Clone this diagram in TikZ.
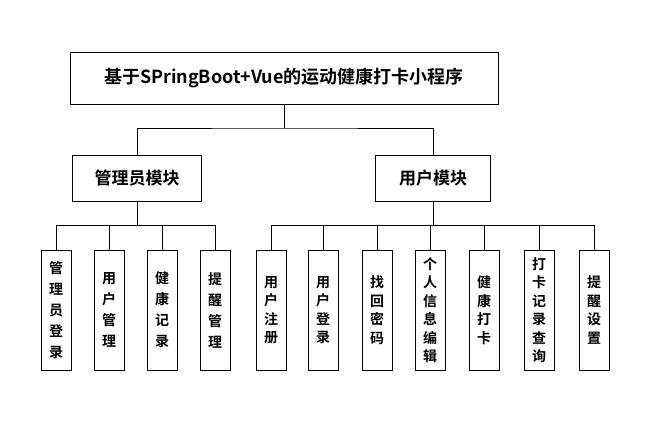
\documentclass[tikz,border=0pt]{standalone}
\usepackage{fontspec}
\setmainfont{Noto Sans CJK SC Bold}
\usetikzlibrary{positioning}
\tikzset{
  box/.style={draw,thick,fill=white,align=center,inner sep=0pt},
  leaf/.style={box,minimum width=30pt,minimum height=120pt,font=\fontsize{14}{21}\selectfont},
  link/.style={thick}
}
\begin{document}
\begin{tikzpicture}[x=1pt,y=-1pt]
\useasboundingbox (0,0) rectangle (650,420);

% Titolo e moduli
\node[box,minimum width=428pt,minimum height=52pt,font=\fontsize{18}{18}\selectfont] (root) at (284,78) {基于SPringBoot+Vue的运动健康打卡小程序};
\node[box,minimum width=129pt,minimum height=46pt,font=\fontsize{17}{17}\selectfont] (admin) at (137,178) {管理员模块};
\node[box,minimum width=115pt,minimum height=46pt,font=\fontsize{17}{17}\selectfont] (user) at (433,178) {用户模块};

\coordinate (rj) at (284,128);
\draw[link] (root.south) -- (rj);
\draw[link] (admin.north) |- (rj) -| (user.north);

% Foglie
\foreach \x/\t/\n in {56/管\\理\\员\\登\\录/a1, 109/用\\户\\管\\理/a2, 162/健\\康\\记\\录/a3, 215/提\\醒\\管\\理/a4} {
  \node[leaf] (\n) at (\x,310) {\t};
  \draw[link] (\n.north) |- (137,225) -- (admin.south);
}
\foreach \x/\t/\n in {271/用\\户\\注\\册/u1, 323/用\\户\\登\\录/u2, 377/找\\回\\密\\码/u3, 430/个\\人\\信\\息\\编\\辑/u4, 484/健\\康\\打\\卡/u5, 539/打\\卡\\记\\录\\查\\询/u6, 594/提\\醒\\设\\置/u7} {
  \node[leaf,font=\fontsize{14}{18.5}\selectfont] (\n) at (\x,310) {\t};
  \draw[link] (\n.north) |- (433,225) -- (user.south);
}
\end{tikzpicture}
\end{document}
